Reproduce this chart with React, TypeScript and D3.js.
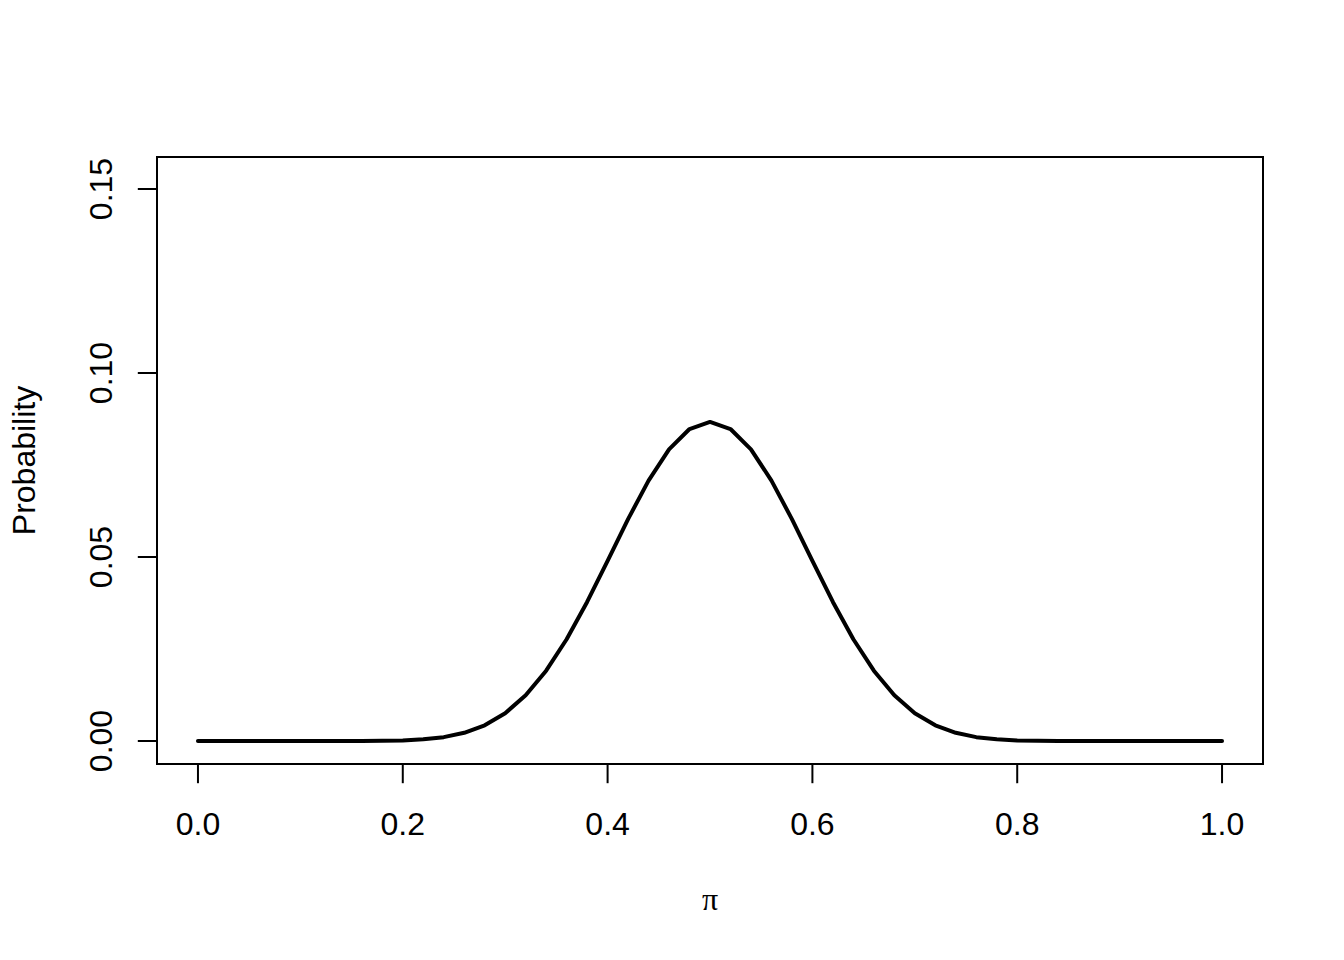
import React from "react";
import * as d3 from "d3";

const piGrid: number[] = [
  0.0, 0.02, 0.04, 0.06, 0.08, 0.1, 0.12, 0.14, 0.16, 0.18, 0.2, 0.22, 0.24, 0.26, 0.28, 0.3, 0.32, 0.34,
  0.36, 0.38, 0.4, 0.42, 0.44, 0.46, 0.48, 0.5, 0.52, 0.54, 0.56, 0.58, 0.6, 0.62, 0.64, 0.66, 0.68,
  0.7, 0.72, 0.74, 0.76, 0.78, 0.8, 0.82, 0.84, 0.86, 0.88, 0.9, 0.92, 0.94, 0.96, 0.98, 1.0,
];
const probability: number[] = [
  0, 0, 0, 0, 0, 0.00000005, 0.0000005, 0.0000031, 0.0000146, 0.0000542, 0.000168, 0.000447, 0.00105,
  0.00222, 0.00426, 0.00755, 0.01242, 0.01911, 0.02765, 0.03778, 0.04896, 0.0603, 0.07077, 0.07925,
  0.08478, 0.0867, 0.08478, 0.07925, 0.07077, 0.0603, 0.04896, 0.03778, 0.02765, 0.01911, 0.01242,
  0.00755, 0.00426, 0.00222, 0.00105, 0.000447, 0.000168, 0.0000542, 0.0000146, 0.0000031, 0.0000005,
  0.00000005, 0, 0, 0, 0, 0,
];
const xTicks: number[] = [0, 0.2, 0.4, 0.6, 0.8, 1.0];
const yTicks: number[] = [0, 0.05, 0.1, 0.15];
const xLabel = "π";
const yLabel = "Probability";

const W = 1344;
const H = 960;
const left = 157;
const right = 1263;
const top = 157;
const bottom = 764;

export default function App() {
  const x = d3.scaleLinear().domain([-0.04, 1.04]).range([left, right]);
  const y = d3.scaleLinear().domain([-0.00625, 0.1587]).range([bottom, top]);
  const pts = piGrid.map((p, i) => [p, probability[i]] as [number, number]);
  const line = d3
    .line<[number, number]>()
    .x((d) => x(d[0]))
    .y((d) => y(d[1]));
  const font = "'Liberation Sans', Arial, Helvetica, sans-serif";
  return (
    <svg
      width={W}
      height={H}
      style={{ position: "absolute", left: 0, top: 0, background: "#fff" }}
    >
      <rect x={0} y={0} width={W} height={H} fill="#fff" />
      <rect
        x={left}
        y={top}
        width={right - left}
        height={bottom - top}
        fill="none"
        stroke="#000"
        strokeWidth={2}
      />
      <path d={line(pts) || ""} fill="none" stroke="#000" strokeWidth={4} strokeLinejoin="round" strokeLinecap="round" />
      {/* x axis */}
      <line x1={x(xTicks[0])} x2={x(xTicks[xTicks.length - 1])} y1={bottom} y2={bottom} stroke="#000" strokeWidth={2} />
      {xTicks.map((t) => (
        <g key={"x" + t}>
          <line x1={x(t)} x2={x(t)} y1={bottom} y2={bottom + 19.2} stroke="#000" strokeWidth={2} />
          <text x={x(t)} y={835} textAnchor="middle" fontFamily={font} fontSize={32} fill="#000">
            {t.toFixed(1)}
          </text>
        </g>
      ))}
      {/* y axis */}
      {yTicks.map((t) => (
        <g key={"y" + t}>
          <line x1={left - 19.2} x2={left} y1={y(t)} y2={y(t)} stroke="#000" strokeWidth={2} />
          <text
            transform={`translate(${112},${y(t)}) rotate(-90)`}
            textAnchor="middle"
            fontFamily={font}
            fontSize={32}
            fill="#000"
          >
            {t.toFixed(2)}
          </text>
        </g>
      ))}
      <text x={(left + right) / 2} y={910} textAnchor="middle" fontFamily="'Liberation Serif', 'Times New Roman', serif" fontSize={32} fill="#000">
        {xLabel}
      </text>
      <text
        transform={`translate(${35},${(top + bottom) / 2}) rotate(-90)`}
        textAnchor="middle"
        fontFamily={font}
        fontSize={32}
        fill="#000"
      >
        {yLabel}
      </text>
    </svg>
  );
}
